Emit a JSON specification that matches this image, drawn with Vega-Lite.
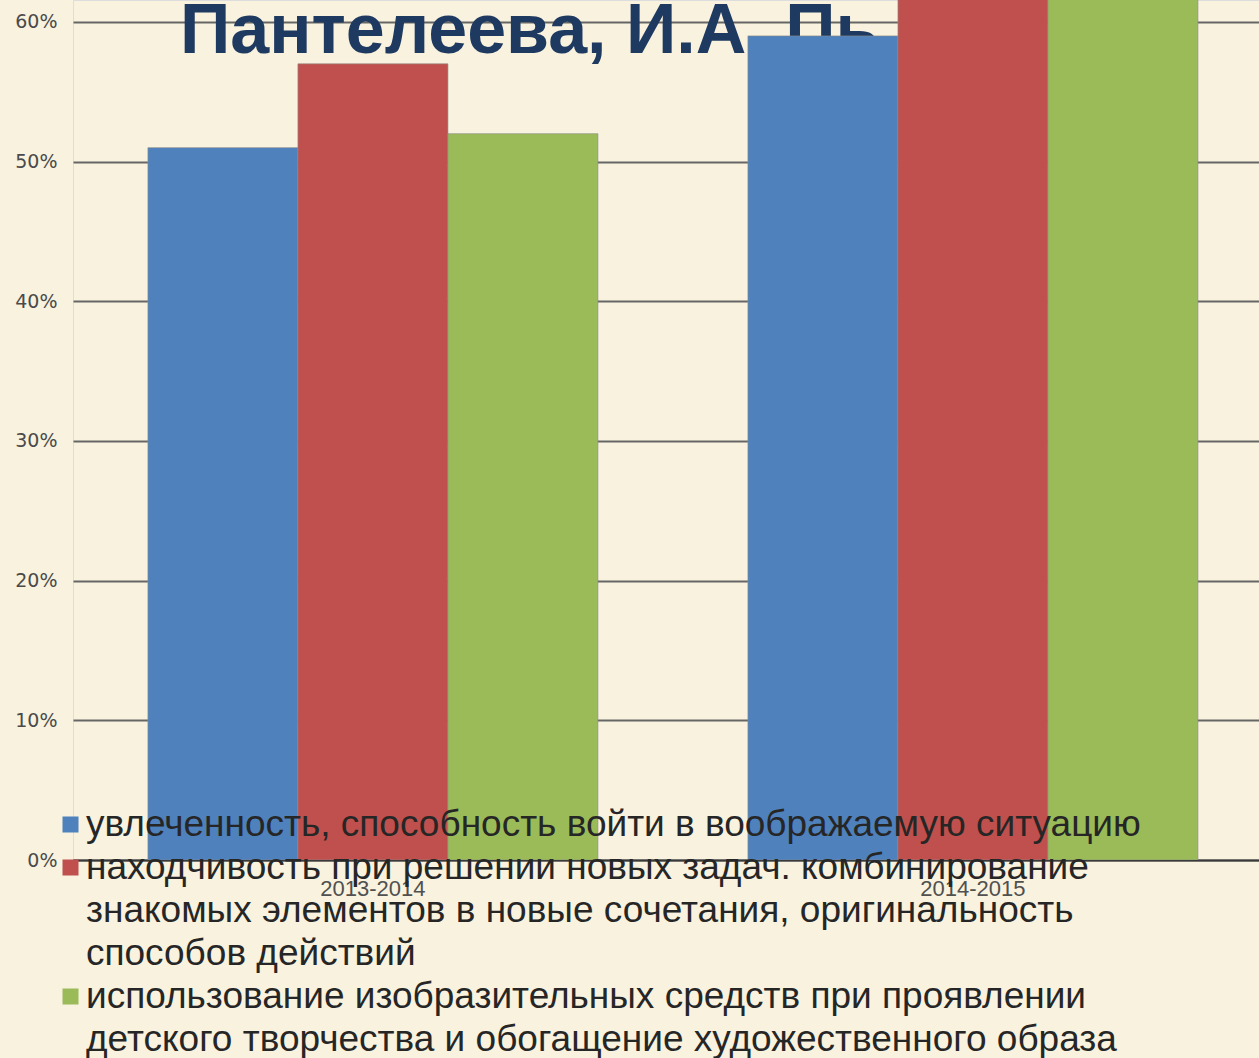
{
  "$schema": "https://vega.github.io/schema/vega-lite/v6.json",
  "autosize": {"type": "none"},
  "padding": {"left": 73, "top": 0, "right": 0, "bottom": 198},
  "width": 1186,
  "height": 860,
  "background": "#F8F2DF",
  "config": {"style": {"guide-label": {"lineHeight": 43}}},
  "layer": [
    {
      "data": {"values": [{"heading": "Пантелеева, И.А. Пь", "anchorYear": "2013-2014", "level": 0.5777}]},
      "mark": {
        "type": "text",
        "align": "left",
        "baseline": "alphabetic",
        "dx": -193,
        "font": "Liberation Sans",
        "fontSize": 70,
        "fontWeight": "bold",
        "color": "#1F3A60"
      },
      "encoding": {
        "x": {"field": "anchorYear", "type": "nominal"},
        "y": {"field": "level", "type": "quantitative"},
        "text": {"field": "heading"}
      }
    },
    {
      "data": {
        "values": [
          {"year": "2013-2014", "criterion": "увлеченность, способность войти в воображаемую ситуацию", "value": 0.51},
          {"year": "2013-2014", "criterion": "находчивость при решении новых задач. комбинирование\nзнакомых элементов в новые сочетания, оригинальность\nспособов действий", "value": 0.57},
          {"year": "2013-2014", "criterion": "использование изобразительных средств при проявлении\nдетского творчества и обогащение художественного образа", "value": 0.52},
          {"year": "2014-2015", "criterion": "увлеченность, способность войти в воображаемую ситуацию", "value": 0.59},
          {"year": "2014-2015", "criterion": "находчивость при решении новых задач. комбинирование\nзнакомых элементов в новые сочетания, оригинальность\nспособов действий", "value": 0.68},
          {"year": "2014-2015", "criterion": "использование изобразительных средств при проявлении\nдетского творчества и обогащение художественного образа", "value": 0.66}
        ]
      },
      "mark": {"type": "bar", "clip": true, "stroke": "#8a8a8a", "strokeWidth": 1, "strokeOpacity": 0.6},
      "encoding": {
        "x": {
          "field": "year",
          "type": "nominal",
          "scale": {"paddingInner": 0.25, "paddingOuter": 0.1133, "align": 0.551},
          "axis": {
            "title": null,
            "labelAngle": 0,
            "labelAlign": "center",
            "labelFont": "Liberation Sans",
            "labelFontSize": 22,
            "labelColor": "#505050",
            "labelPadding": 18,
            "labelBaseline": "top",
            "ticks": false,
            "domainColor": "#3a3a3a",
            "domainWidth": 2,
            "grid": false
          }
        },
        "xOffset": {
          "field": "criterion",
          "type": "nominal",
          "sort": null,
          "scale": {"paddingInner": 0, "paddingOuter": 0}
        },
        "y": {
          "field": "value",
          "type": "quantitative",
          "scale": {"domain": [0, 0.6157], "nice": false, "zero": true},
          "axis": {
            "title": null,
            "values": [0, 0.1, 0.2, 0.3, 0.4, 0.5, 0.6],
            "format": ".0%",
            "labelFont": "DejaVu Sans",
            "labelFontSize": 19,
            "labelColor": "#4a4a4a",
            "labelPadding": 16,
            "labelBaseline": "middle",
            "ticks": false,
            "domain": false,
            "grid": true,
            "gridColor": "#666666",
            "gridWidth": 2
          }
        },
        "color": {
          "field": "criterion",
          "type": "nominal",
          "sort": null,
          "scale": {"range": ["#4F81BD", "#C0504D", "#9BBB59"]},
          "legend": {
            "title": null,
            "orient": "none",
            "legendX": -21,
            "legendY": 806,
            "padding": 0,
            "rowPadding": 5,
            "symbolType": "square",
            "symbolSize": 256,
            "symbolStrokeWidth": 0,
            "labelFont": "Liberation Sans",
            "labelFontSize": 37,
            "labelColor": "#262626",
            "labelLimit": 3000,
            "labelOffset": -3,
            "labelBaseline": "middle",
            "labelExpr": "split(datum.label, '\\n')",
            "encode": {
              "labels": {
                "lineHeight": {"value": 43},
                "dy": {"value": {"expr": "-(length(split(datum.label, '\\n')) - 1) * 21.5"}}
              }
            }
          }
        }
      }
    }
  ]
}
